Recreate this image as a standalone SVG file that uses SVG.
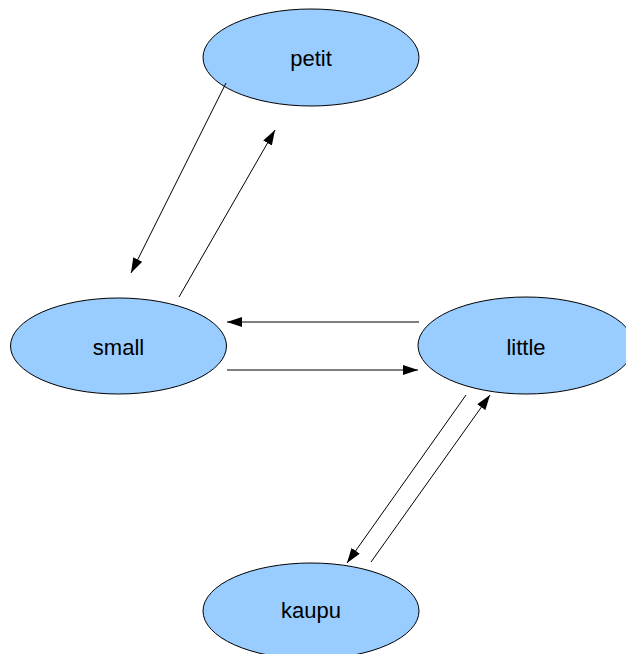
<svg xmlns="http://www.w3.org/2000/svg" width="626" height="654" viewBox="0 0 626 654">
<style>
.node ellipse { fill: #99ccff; stroke: #000; stroke-width: 1; }
.node text { font-family: "Liberation Sans", Arial, sans-serif; font-size: 22px; fill: #000; text-anchor: middle; }
.edge { stroke: #000; stroke-width: 1; fill: none; marker-end: url(#arrow); }
</style>
<defs>
<marker id="arrow" markerWidth="15" markerHeight="10" refX="15" refY="5" orient="auto" markerUnits="userSpaceOnUse">
<path d="M0,0 L15,5 L0,10 Z" fill="#000"/>
</marker>
</defs>
<rect width="626" height="654" fill="#fff"/>
<g id="node-petit" class="node">
<ellipse cx="311" cy="57.5" rx="108" ry="48.5"/>
<text x="311" y="66">petit</text>
</g>
<g id="node-small" class="node">
<ellipse cx="118.5" cy="346" rx="108" ry="48"/>
<text x="118.5" y="355">small</text>
</g>
<g id="node-little" class="node">
<ellipse cx="526" cy="345.5" rx="108" ry="48.5"/>
<text x="526" y="355">little</text>
</g>
<g id="node-kaupu" class="node">
<ellipse cx="311" cy="611" rx="108" ry="48"/>
<text x="311" y="618">kaupu</text>
</g>
<g id="connectors">
<line class="edge" x1="226" y1="83" x2="131" y2="273"/>
<line class="edge" x1="179" y1="297" x2="275" y2="130"/>
<line class="edge" x1="419" y1="322" x2="227" y2="322"/>
<line class="edge" x1="227" y1="370" x2="418" y2="370"/>
<line class="edge" x1="466" y1="395" x2="347" y2="563"/>
<line class="edge" x1="371" y1="562" x2="490" y2="395"/>
</g>
</svg>
